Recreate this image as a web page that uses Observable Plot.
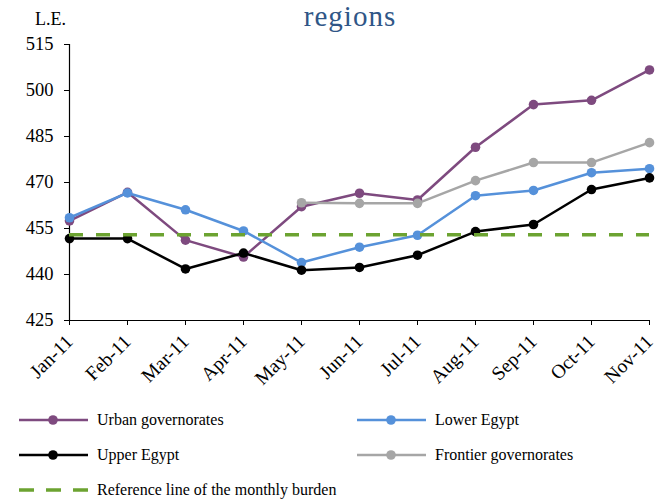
<!DOCTYPE html>
<html><head><meta charset="utf-8">
<script src="https://cdn.jsdelivr.net/npm/d3@7"></script>
<script src="https://cdn.jsdelivr.net/npm/@observablehq/plot@0.6"></script>
<style>
body{margin:0;background:#fff;font-family:"Liberation Serif","Times New Roman",serif;color:#000;}
#wrap{position:relative;width:662px;height:500px;overflow:hidden;}
#header{position:relative;height:30px;}
#unit{position:absolute;left:35px;top:9px;font-size:18px;line-height:20px;}
#title{position:absolute;left:0;width:662px;box-sizing:border-box;padding-left:38px;text-align:center;top:1px;font-size:29px;line-height:31px;letter-spacing:1px;color:#2f5687;}
#chart svg{display:block;}
#chart svg text{font-family:"Liberation Serif","Times New Roman",serif;}
#legend{position:absolute;left:19px;top:402px;display:grid;grid-template-columns:338px 300px;grid-auto-rows:35px;font-size:16px;}
.item{display:flex;align-items:center;}
.item span{margin-left:9px;white-space:nowrap;}
</style></head>
<body>
<div id="wrap">
  <div id="header"><div id="unit">L.E.</div><div id="title">regions</div></div>
  <div id="chart"></div>
  <div id="legend"></div>
</div>
<script>
const months = ["Jan-11","Feb-11","Mar-11","Apr-11","May-11","Jun-11","Jul-11","Aug-11","Sep-11","Oct-11","Nov-11"];
const urban    = [457.5, 466.8, 451.2, 445.7, 462.1, 466.5, 464.3, 481.5, 495.4, 496.8, 506.7];
const lower    = [458.5, 466.6, 461.1, 454.2, 443.9, 448.9, 452.8, 465.7, 467.4, 473.2, 474.5];
const upper    = [451.7, 451.7, 441.8, 447.0, 441.4, 442.3, 446.3, 454.0, 456.3, 467.7, 471.5];
const frontier = [null, null, null, null, 463.4, 463.2, 463.2, 470.6, 476.5, 476.5, 483.0];
const referenceLevel = 453;
const yTicks = [425, 440, 455, 470, 485, 500, 515];

const seriesNames  = ["Urban governorates", "Lower Egypt", "Upper Egypt", "Frontier governorates"];
const seriesValues = [urban, lower, upper, frontier];
const seriesColors = ["#7e4a7f", "#5591da", "#000000", "#a6a6a6"];
const referenceName = "Reference line of the monthly burden";
const referenceColor = "#6ca331";

const rows = [];
seriesNames.forEach((name, i) => {
  months.forEach((m, j) => rows.push({series: name, month: m, value: seriesValues[i][j]}));
});

const serif = "'Liberation Serif', 'Times New Roman', serif";
const marks = [
  Plot.ruleX([months[0]], {x: d => d, stroke: "#000", strokeWidth: 1.2}),
  Plot.ruleY([yTicks[0]], {y: d => d, stroke: "#000", strokeWidth: 1.2}),
  Plot.axisY({ticks: yTicks, tickSize: 5, tickPadding: 11, fontSize: 18.5, fontFamily: serif, label: null, tickFormat: d => d}),
  Plot.axisX({tickSize: 5, tickPadding: 13, tickRotate: -45, fontSize: 19.5, fontFamily: serif, label: null})
];
seriesNames.forEach((name, i) => {
  const data = rows.filter(r => r.series === name);
  marks.push(Plot.line(data, {x: "month", y: "value", stroke: seriesColors[i], strokeWidth: 2.5}));
  marks.push(Plot.dot(data, {x: "month", y: "value", fill: seriesColors[i], r: 4.8, stroke: "none"}));
});
marks.push(Plot.ruleY([referenceLevel], {y: d => d, stroke: referenceColor, strokeWidth: 3.5, strokeDasharray: "14,13"}));

const chart = Plot.plot({
  width: 662,
  height: 360,
  marginTop: 14,
  marginBottom: 70,
  marginLeft: 69,
  marginRight: 13,
  style: "font-family: 'Liberation Serif', 'Times New Roman', serif; color: #000; background: #fff; overflow: visible;",
  x: {type: "point", domain: months, padding: 0},
  y: {domain: [yTicks[0], yTicks[yTicks.length - 1]]},
  marks
});
document.getElementById("chart").appendChild(chart);

// Legend
const legend = document.getElementById("legend");
const legendEntries = seriesNames.map((n, i) => ({name: n, color: seriesColors[i], dashed: false}));
legendEntries.push({name: referenceName, color: referenceColor, dashed: true});
legendEntries.forEach(e => {
  const div = document.createElement("div");
  div.className = "item";
  const ns = "http://www.w3.org/2000/svg";
  const svg = document.createElementNS(ns, "svg");
  svg.setAttribute("width", 69); svg.setAttribute("height", 12);
  const line = document.createElementNS(ns, "line");
  line.setAttribute("x1", 0); line.setAttribute("x2", 69);
  line.setAttribute("y1", 6); line.setAttribute("y2", 6);
  line.setAttribute("stroke", e.color);
  line.setAttribute("stroke-width", e.dashed ? 3.5 : 2.5);
  if (e.dashed) line.setAttribute("stroke-dasharray", "15,12");
  svg.appendChild(line);
  if (!e.dashed) {
    const c = document.createElementNS(ns, "circle");
    c.setAttribute("cx", 34); c.setAttribute("cy", 6); c.setAttribute("r", 4.8);
    c.setAttribute("fill", e.color);
    svg.appendChild(c);
  }
  div.appendChild(svg);
  const span = document.createElement("span");
  span.textContent = e.name;
  div.appendChild(span);
  legend.appendChild(div);
});
</script>
</body></html>
